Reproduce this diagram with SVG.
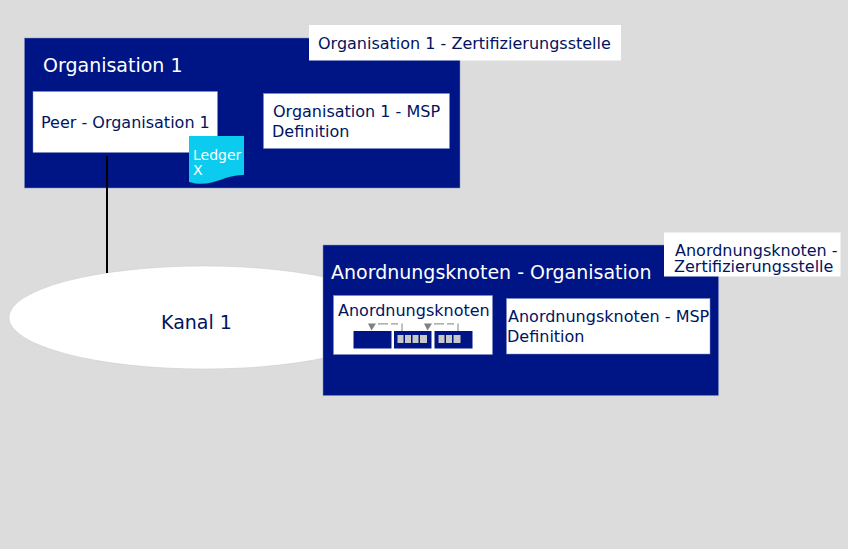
<svg xmlns="http://www.w3.org/2000/svg" width="848" height="549" viewBox="0 0 848 549">
<style>
text{font-family:"DejaVu Sans",sans-serif;fill:#00145f}
.org{fill:#001585;stroke:#7f8ac2;stroke-width:.5}
.box{fill:#fff;stroke:#7f8ac2;stroke-width:.5}
.f16{font-size:16px}
.f19{font-size:19px}
.blk{fill:#001585}
.tx{fill:#c8c8c8}
.dash{fill:none;stroke:#999;stroke-width:1.2;stroke-dasharray:10 3 7 2}
.sol{fill:none;stroke:#808080;stroke-width:1}
.arr{fill:#808080}
</style>
<rect width="848" height="549" fill="#dcdcdc"/>
<g id="kanal"><ellipse cx="204" cy="317.500" rx="195" ry="51.500" fill="#fff" stroke="#c8c8c8" stroke-width=".5"/><text class="f19" x="161" y="329">Kanal 1</text></g>
<g id="org1"><rect class="org" x="24.500" y="38" width="435.500" height="150"/><text class="f19" style="fill:#fff" x="43" y="72">Organisation 1</text></g>
<g id="org1-ca"><rect x="309" y="25" width="312" height="35.500" fill="#fff"/><text class="f16" x="318" y="49">Organisation 1 - Zertifizierungsstelle</text></g>
<g id="peer"><rect class="box" x="33" y="91.500" width="184.500" height="61"/><text class="f16" x="41" y="128">Peer - Organisation 1</text></g>
<g id="ledger"><path d="M189 136H244V175C224 174 212 189 189 182Z" fill="#0bcbef"/><text style="fill:#fff" font-size="14" x="193" y="160">Ledger</text><text style="fill:#fff" font-size="14" x="193" y="175">X</text></g>
<g id="msp1"><rect class="box" x="263.500" y="93.500" width="186" height="55"/><text class="f16" x="273" y="117">Organisation 1 - MSP</text><text class="f16" x="272" y="137">Definition</text></g>
<g id="ordererorg"><rect class="org" x="323" y="245" width="395.500" height="150.500"/><text class="f19" style="fill:#fff" x="331" y="279">Anordnungsknoten - Organisation</text></g>
<g id="orderer-ca"><rect x="664" y="232.500" width="176.500" height="44" fill="#fff"/><text class="f16" x="675" y="256">Anordnungsknoten -</text><text class="f16" x="674" y="272">Zertifizierungsstelle</text></g>
<g id="orderer"><rect class="box" x="333.500" y="295.500" width="159" height="59"/><text class="f16" x="338" y="316">Anordnungsknoten</text>
<rect class="blk" x="353.500" y="331" width="38" height="17.500"/><rect class="blk" x="394" y="331" width="37.500" height="17.500"/><rect class="blk" x="434.500" y="331" width="38" height="17.500"/>
<g class="tx"><rect x="397.500" y="335" width="6" height="8"/><rect x="405" y="335" width="6" height="8"/><rect x="412.500" y="335" width="6" height="8"/><rect x="420" y="335" width="7" height="8"/><rect x="438.500" y="335" width="6" height="8"/><rect x="446" y="335" width="6" height="8"/><rect x="453.500" y="335" width="7" height="8"/></g>
<path class="dash" d="M378 323.800H400"/><path class="sol" d="M402 323.500V331"/><path class="arr" d="M368 323.500H376L371.500 330.500Z"/>
<path class="dash" d="M434 323.800H456"/><path class="sol" d="M458 323.500V331"/><path class="arr" d="M424 323.500H432L427.500 330.500Z"/></g>
<g id="msp2"><rect class="box" x="506.500" y="298.500" width="203.500" height="55.500"/><text class="f16" x="508" y="322">Anordnungsknoten - MSP</text><text class="f16" x="507" y="342">Definition</text></g>
<g id="connectors"><path d="M107 156V273" fill="none" stroke="#000" stroke-width="2"/></g>
</svg>
